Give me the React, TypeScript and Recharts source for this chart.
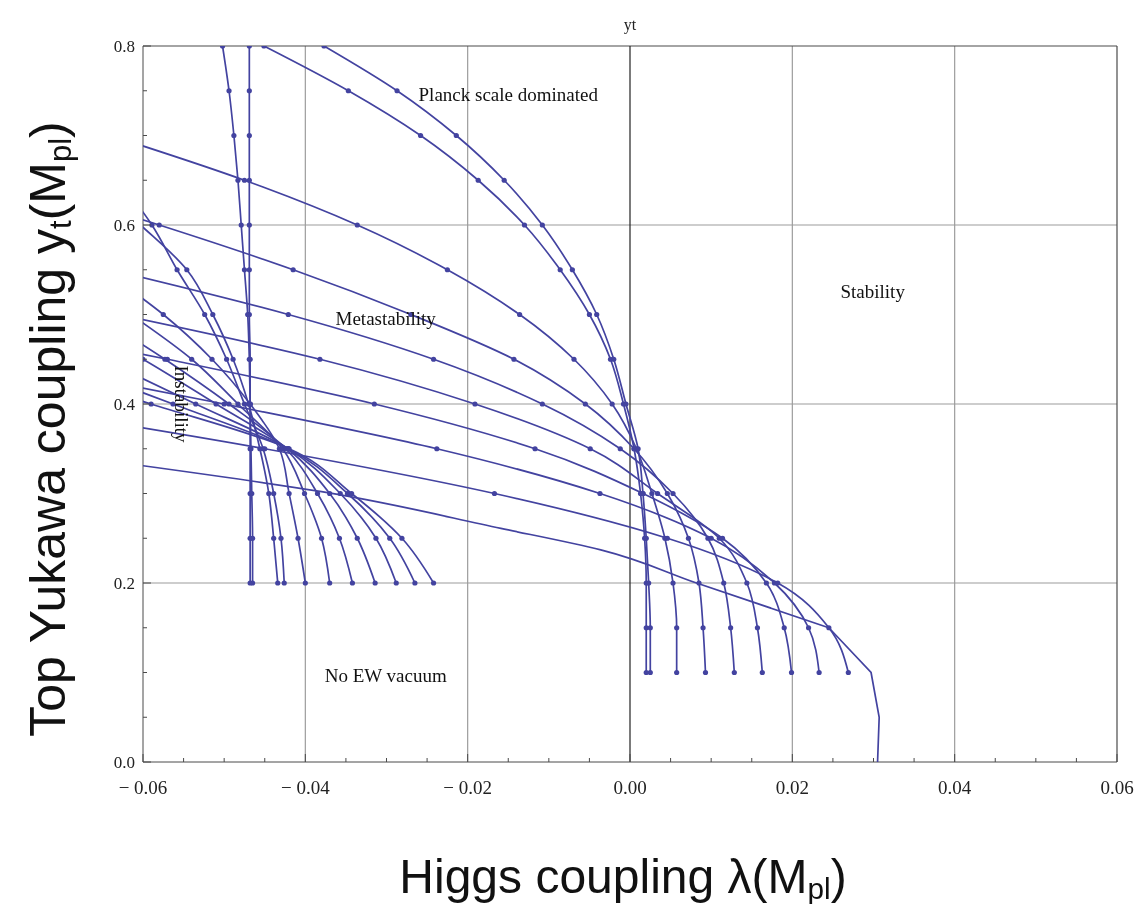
import React from 'react';
import { ScatterChart, Scatter, XAxis, YAxis, ReferenceLine, ReferenceDot } from 'recharts';

const INK = '#4343a0';
const FRAME = '#4a4a4a';
const GRID = '#9c9c9c';
const SERIF = '"Liberation Serif", "DejaVu Serif", serif';
const SANS = '"Liberation Sans", Arial, sans-serif';

// axis ticks
const X_TICKS = [-0.06, -0.055, -0.05, -0.045, -0.04, -0.035, -0.03, -0.025, -0.02, -0.015, -0.01, -0.005, 0,
  0.005, 0.01, 0.015, 0.02, 0.025, 0.03, 0.035, 0.04, 0.045, 0.05, 0.055, 0.06];
const X_MAJOR = [-0.06, -0.04, -0.02, 0, 0.02, 0.04, 0.06];
const X_LABELS = ['\u2212 0.06', '\u2212 0.04', '\u2212 0.02', '0.00', '0.02', '0.04', '0.06'];
const Y_TICKS = [0, 0.05, 0.1, 0.15, 0.2, 0.25, 0.3, 0.35, 0.4, 0.45, 0.5, 0.55, 0.6, 0.65, 0.7, 0.75, 0.8];
const Y_MAJOR = [0, 0.2, 0.4, 0.6, 0.8];
const Y_LABELS = ['0.0', '0.2', '0.4', '0.6', '0.8'];

// yt levels where each flow line is sampled (one dot per level)
const LEFT_YT = [0.2, 0.25, 0.3, 0.35, 0.4, 0.45, 0.5, 0.55, 0.6, 0.65, 0.7, 0.75, 0.8];
const RIGHT_YT = [0.1, 0.15, 0.2, 0.25, 0.3, 0.35, 0.4, 0.45, 0.5, 0.55, 0.6, 0.65, 0.7, 0.75, 0.8];

// lambda values on the left family (start at yt = 0.2)
const L1 = [-0.0468, -0.0468, -0.0468, -0.0468, -0.0468, -0.0468, -0.0469, -0.0469, -0.0469, -0.0469, -0.0469, -0.0469, -0.0469];
const L2 = [-0.0465, -0.0465, -0.0466, -0.0467, -0.0468, -0.0469, -0.0471, -0.0475, -0.0479, -0.0483, -0.0488, -0.0494, -0.0502];
const L3 = [-0.0434, -0.0439, -0.0445, -0.0456, -0.047, -0.0489, -0.0514, -0.0546, -0.0603, -0.0665];
const L4 = [-0.0426, -0.043, -0.0439, -0.0452, -0.0475, -0.0497, -0.0524, -0.0558, -0.0589, -0.063];
const L5 = [-0.04, -0.0409, -0.042, -0.0432, -0.0468, -0.0515, -0.0575, -0.065];
const L6 = [-0.037, -0.038, -0.0401, -0.0428, -0.0483, -0.054, -0.0615];
const L7 = [-0.0342, -0.0358, -0.0385, -0.0424, -0.0494, -0.0573, -0.066];
const L8 = [-0.0314, -0.0336, -0.037, -0.0422, -0.051, -0.06, -0.07];
const L9 = [-0.0288, -0.0313, -0.0357, -0.0421, -0.0535, -0.065];
const L10 = [-0.0265, -0.0296, -0.0348, -0.0421, -0.0563, -0.071];
const L11 = [-0.0242, -0.0281, -0.0343, -0.042, -0.059, -0.077];

// lambda values on the right family (start at yt = 0.1)
const R1 = [0.002, 0.002, 0.002, 0.0018, 0.0013, 0.0005, -0.0008, -0.0024, -0.005, -0.0086, -0.013, -0.0187, -0.0258, -0.0347, -0.0451];
const R2 = [0.0025, 0.0025, 0.0023, 0.002, 0.0016, 0.001, -0.0005, -0.002, -0.0041, -0.0071, -0.0108, -0.0155, -0.0214, -0.0287, -0.0377];
const R3 = [0.00575, 0.00575, 0.0053, 0.0043, 0.0027, 0.0008, -0.0022, -0.0069, -0.0136, -0.0225, -0.0336, -0.0475, -0.064];
const R4 = [0.0093, 0.009, 0.0085, 0.0072, 0.0046, 0.0005, -0.0055, -0.0143, -0.027, -0.0415, -0.058, -0.076];
const R5 = [0.01285, 0.0124, 0.01155, 0.0096, 0.0053, -0.0012, -0.0108, -0.0242, -0.0421, -0.064];
const R6 = [0.0163, 0.0157, 0.0144, 0.011, 0.0034, -0.0049, -0.0191, -0.0382, -0.063];
const R7 = [0.0199, 0.019, 0.0168, 0.0114, 0.0016, -0.0117, -0.0315, -0.057, -0.085];
const R8 = [0.0233, 0.022, 0.0178, 0.01, -0.0037, -0.0238, -0.05, -0.078];
const R9 = [0.0269, 0.0245, 0.0182, 0.0046, -0.0167, -0.045, -0.078];

// edge of the allowed region (no markers): straight lower part, smooth upper part
const EDGE_LOW_X = [0.0305, 0.0307, 0.0297, 0.0245];
const EDGE_LOW_Y = [0, 0.05, 0.1, 0.15];
const EDGE_HIGH_X = [0.0245, 0.0082, -0.0036, -0.0159, -0.038, -0.06];
const EDGE_HIGH_Y = [0.15, 0.2, 0.237, 0.261, 0.302, 0.331];

const NOTES = [
  { text: 'Planck scale dominated', x: -0.015, y: 0.746 },
  { text: 'Metastability', x: -0.0301, y: 0.496 },
  { text: 'Stability', x: 0.0299, y: 0.526 },
  { text: 'No EW vacuum', x: -0.0301, y: 0.097 },
];

const toPoints = (levels: number[], xs: number[]) => xs.map((x, i) => ({ x, y: levels[i] }));

const FLOWS = [
  ...[L1, L2, L3, L4, L5, L6, L7, L8, L9, L10, L11].map((xs) => toPoints(LEFT_YT, xs)),
  ...[R1, R2, R3, R4, R5, R6, R7, R8, R9].map((xs) => toPoints(RIGHT_YT, xs)),
];
const EDGE_LOW = toPoints(EDGE_LOW_Y, EDGE_LOW_X);
const EDGE_HIGH = toPoints(EDGE_HIGH_Y, EDGE_HIGH_X);

const majorIndex = (v: number, majors: number[]) => majors.findIndex((m) => Math.abs(m - v) < 1e-9);

const BottomTick = ({ x, y, payload }: any) => {
  const i = majorIndex(payload.value, X_MAJOR);
  return (
    <g>
      <line x1={x} y1={y} x2={x} y2={y - (i >= 0 ? 8 : 4)} stroke={FRAME} />
      {i >= 0 && (
        <text x={x} y={y + 32} textAnchor="middle" fontFamily={SERIF} fontSize={19} fill="#222">
          {X_LABELS[i]}
        </text>
      )}
    </g>
  );
};

const TopTick = ({ x, y, payload }: any) => {
  const i = majorIndex(payload.value, X_MAJOR);
  return <line x1={x} y1={y} x2={x} y2={y + (i >= 0 ? 8 : 4)} stroke={FRAME} />;
};

const LeftTick = ({ x, y, payload }: any) => {
  const i = majorIndex(payload.value, Y_MAJOR);
  return (
    <g>
      <line x1={x} y1={y} x2={x + (i >= 0 ? 8 : 4)} y2={y} stroke={FRAME} />
      {i >= 0 && (
        <text x={x - 8} y={y + 6} textAnchor="end" fontFamily={SERIF} fontSize={17} fill="#222">
          {Y_LABELS[i]}
        </text>
      )}
    </g>
  );
};

const RightTick = ({ x, y, payload }: any) => {
  const i = majorIndex(payload.value, Y_MAJOR);
  return <line x1={x} y1={y} x2={x - (i >= 0 ? 8 : 4)} y2={y} stroke={FRAME} />;
};

const dotShape = (p: any) => <circle cx={p.cx} cy={p.cy} r={2.6} fill={INK} />;
const noShape = () => <g />;

const verticalNote = (props: any) => {
  const vb = props.viewBox || {};
  const cx = (vb.x ?? 0) + (vb.width ?? 0) / 2;
  const cy = (vb.y ?? 0) + (vb.height ?? 0) / 2;
  return (
    <text
      x={cx}
      y={cy}
      transform={`rotate(90 ${cx} ${cy})`}
      textAnchor="middle"
      dominantBaseline="central"
      fontFamily={SERIF}
      fontSize={19}
      fill="#111"
    >
      Instability
    </text>
  );
};

const subStyle = { fontSize: '0.62em', verticalAlign: '-0.2em' };

export default function App() {
  return (
    <div style={{ position: 'fixed', left: 8, top: 8, width: 1130, height: 896 }}>
      <ScatterChart width={1130} height={880} margin={{ top: 38, right: 21, bottom: 86, left: 95 }}>
        <XAxis
          type="number"
          dataKey="x"
          domain={[-0.06, 0.06]}
          allowDataOverflow
          ticks={X_TICKS}
          interval={0}
          tick={<BottomTick />}
          tickLine={false}
          tickSize={0}
          tickMargin={0}
          height={40}
          axisLine={{ stroke: FRAME }}
        />
        <XAxis
          xAxisId="top"
          orientation="top"
          type="number"
          dataKey="x"
          domain={[-0.06, 0.06]}
          allowDataOverflow
          ticks={X_TICKS}
          interval={0}
          tick={<TopTick />}
          tickLine={false}
          tickSize={0}
          tickMargin={0}
          height={0}
          axisLine={{ stroke: FRAME }}
        />
        <YAxis
          type="number"
          dataKey="y"
          domain={[0, 0.8]}
          allowDataOverflow
          ticks={Y_TICKS}
          interval={0}
          tick={<LeftTick />}
          tickLine={false}
          tickSize={0}
          tickMargin={0}
          width={40}
          axisLine={{ stroke: FRAME }}
        />
        <YAxis
          yAxisId="right"
          orientation="right"
          type="number"
          dataKey="y"
          domain={[0, 0.8]}
          allowDataOverflow
          ticks={Y_TICKS}
          interval={0}
          tick={<RightTick />}
          tickLine={false}
          tickSize={0}
          tickMargin={0}
          width={0}
          axisLine={{ stroke: FRAME }}
        />

        {[-0.04, -0.02, 0.02, 0.04].map((v) => (
          <ReferenceLine key={`gx${v}`} x={v} stroke={GRID} strokeWidth={1.2} />
        ))}
        {[0.2, 0.4, 0.6].map((v) => (
          <ReferenceLine key={`gy${v}`} y={v} stroke={GRID} strokeWidth={1.2} />
        ))}
        <ReferenceLine y={0.8} stroke={FRAME} strokeWidth={1.2} />
        <ReferenceLine x={0.06} stroke={FRAME} strokeWidth={1.2} />
        <ReferenceLine
          x={0}
          stroke="#222"
          strokeWidth={1.2}
          label={{ value: 'yt', position: 'top', offset: 16, fontFamily: SERIF, fontSize: 16, fill: '#222' }}
        />

        <Scatter
          data={EDGE_LOW}
          line={{ stroke: INK, strokeWidth: 1.7 }}
          lineType="joint"
          lineJointType="linear"
          shape={noShape}
          isAnimationActive={false}
        />
        <Scatter
          data={EDGE_HIGH}
          line={{ stroke: INK, strokeWidth: 1.7 }}
          lineType="joint"
          lineJointType="monotoneY"
          shape={noShape}
          isAnimationActive={false}
        />
        {FLOWS.map((pts, i) => (
          <Scatter
            key={`flow${i}`}
            data={pts}
            line={{ stroke: INK, strokeWidth: 1.7 }}
            lineType="joint"
            lineJointType="monotoneY"
            shape={dotShape}
            isAnimationActive={false}
          />
        ))}

        {NOTES.map((n) => (
          <ReferenceDot
            key={n.text}
            x={n.x}
            y={n.y}
            r={0}
            fill="none"
            stroke="none"
            label={{ value: n.text, position: 'center', fontFamily: SERIF, fontSize: 19, fill: '#111' }}
          />
        ))}
        <ReferenceDot x={-0.0553} y={0.4} r={0} fill="none" stroke="none" label={{ content: verticalNote }} />
      </ScatterChart>

      <div
        style={{
          position: 'absolute',
          left: -310,
          top: 391,
          width: 700,
          height: 60,
          lineHeight: '60px',
          textAlign: 'center',
          transform: 'rotate(-90deg)',
          fontFamily: SANS,
          fontSize: 50,
          color: '#111',
          whiteSpace: 'nowrap',
        }}
      >
        Top Yukawa coupling y<span style={subStyle}>t</span>(M<span style={subStyle}>pl</span>)
      </div>
      <div
        style={{
          position: 'absolute',
          left: 215,
          top: 841,
          width: 800,
          height: 56,
          lineHeight: '56px',
          textAlign: 'center',
          fontFamily: SANS,
          fontSize: 48,
          color: '#111',
          whiteSpace: 'nowrap',
        }}
      >
        Higgs coupling λ(M<span style={subStyle}>pl</span>)
      </div>
    </div>
  );
}
